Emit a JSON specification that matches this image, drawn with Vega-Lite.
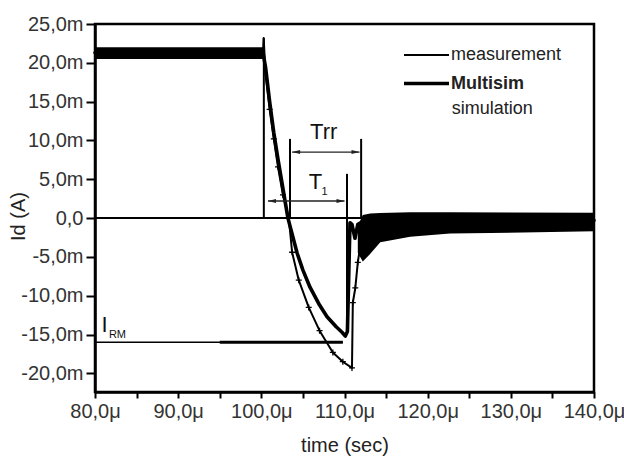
{
  "$schema": "https://vega.github.io/schema/vega-lite/v6.json",
  "width": 499,
  "height": 368,
  "autosize": {"type": "none"},
  "padding": {"left": 95, "top": 24, "right": 30, "bottom": 67},
  "background": "white",
  "config": {"view": {"stroke": "black", "strokeWidth": 2.5}, "font": "Liberation Sans"},
  "datasets": {
    "curves": [
      {"series": "measurement", "t": 80, "I": 21.3},
      {"series": "measurement", "t": 100.2, "I": 21.3},
      {"series": "measurement", "t": 100.28, "I": 23.2},
      {"series": "measurement", "t": 100.5, "I": 18.6},
      {"series": "measurement", "t": 101.0, "I": 14.0},
      {"series": "measurement", "t": 101.5, "I": 10.2},
      {"series": "measurement", "t": 102.0, "I": 6.6},
      {"series": "measurement", "t": 102.6, "I": 3.0},
      {"series": "measurement", "t": 103.3, "I": 0},
      {"series": "measurement", "t": 103.7, "I": -4.4},
      {"series": "measurement", "t": 104.5, "I": -8.0},
      {"series": "measurement", "t": 105.7, "I": -11.5},
      {"series": "measurement", "t": 107.0, "I": -14.5},
      {"series": "measurement", "t": 108.6, "I": -17.3},
      {"series": "measurement", "t": 109.8, "I": -18.5},
      {"series": "measurement", "t": 110.9, "I": -19.3},
      {"series": "measurement", "t": 111.0, "I": -10.9},
      {"series": "measurement", "t": 111.3, "I": -9.0},
      {"series": "measurement", "t": 111.6, "I": -5.7},
      {"series": "measurement", "t": 112.1, "I": -2.2},
      {"series": "measurement", "t": 112.6, "I": -0.9},
      {"series": "measurement", "t": 113.3, "I": -0.4},
      {"series": "measurement", "t": 140, "I": -0.4},
      {"series": "Multisim", "t": 80, "I": 21.3},
      {"series": "Multisim", "t": 100.2, "I": 21.3},
      {"series": "Multisim", "t": 100.5, "I": 19.5},
      {"series": "Multisim", "t": 101.0, "I": 15.0},
      {"series": "Multisim", "t": 101.5, "I": 11.0},
      {"series": "Multisim", "t": 102.0, "I": 7.6},
      {"series": "Multisim", "t": 102.6, "I": 3.8},
      {"series": "Multisim", "t": 103.2, "I": 0},
      {"series": "Multisim", "t": 104.3, "I": -4.5},
      {"series": "Multisim", "t": 105.0, "I": -6.7},
      {"series": "Multisim", "t": 105.85, "I": -8.9},
      {"series": "Multisim", "t": 107.0, "I": -11.2},
      {"series": "Multisim", "t": 107.9, "I": -12.7},
      {"series": "Multisim", "t": 109.0, "I": -14.0},
      {"series": "Multisim", "t": 109.7, "I": -14.7},
      {"series": "Multisim", "t": 110.1, "I": -15.2},
      {"series": "Multisim", "t": 110.35, "I": -14.6},
      {"series": "Multisim", "t": 110.66, "I": -0.6},
      {"series": "Multisim", "t": 110.9, "I": -0.8},
      {"series": "Multisim", "t": 111.26, "I": -2.6},
      {"series": "Multisim", "t": 111.6, "I": -0.8},
      {"series": "Multisim", "t": 112.5, "I": -0.3},
      {"series": "Multisim", "t": 140, "I": -0.3}
    ],
    "band": [
      {"seg": "pre", "t": 80, "hi": 22.0, "lo": 20.5},
      {"seg": "pre", "t": 100.2, "hi": 22.0, "lo": 20.5},
      {"seg": "post", "t": 111.6, "hi": -1.0, "lo": -4.5},
      {"seg": "post", "t": 112.2, "hi": 0.4, "lo": -5.6},
      {"seg": "post", "t": 113.1, "hi": 0.6, "lo": -4.6},
      {"seg": "post", "t": 114.3, "hi": 0.65, "lo": -3.1},
      {"seg": "post", "t": 117.9, "hi": 0.75, "lo": -2.4},
      {"seg": "post", "t": 122.7, "hi": 0.75, "lo": -2.0},
      {"seg": "post", "t": 140, "hi": 0.7, "lo": -1.7}
    ],
    "zero": [{"I": 0}],
    "vlines": [
      {"t": 100.3, "y1": 0, "y2": 23.2},
      {"t": 103.45, "y1": 0, "y2": 10.2},
      {"t": 112.0, "y1": 0, "y2": 10.2},
      {"t": 110.3, "y1": -14.8, "y2": 5.7}
    ],
    "irm": [{"t0": 80, "t1": 95, "t2": 109.8, "I": -16.0}],
    "arrows": [
      {"name": "Trr", "t1": 103.7, "t2": 111.8, "I": 8.5},
      {"name": "T1", "t1": 100.8, "t2": 110.0, "I": 2.2}
    ],
    "labels": [
      {"label": "Trr", "t": 107.5, "I": 11.1},
      {"label": "T", "t": 106.5, "I": 4.7},
      {"label": "I", "t": 81.15, "I": -13.8}
    ],
    "subs": [
      {"label": "1", "t": 107.6, "I": 3.3},
      {"label": "RM", "t": 82.7, "I": -15.1}
    ],
    "legendnote": [{"label": "simulation", "t": 122.9, "I": 14.0}]
  },
  "layer": [
    {
      "data": {"name": "band"},
      "mark": {"type": "area", "color": "black"},
      "encoding": {
        "x": {"field": "t", "type": "quantitative"},
        "y": {"field": "hi", "type": "quantitative"},
        "y2": {"field": "lo"},
        "detail": {"field": "seg"}
      }
    },
    {
      "data": {"name": "zero"},
      "mark": {"type": "rule", "color": "black", "strokeWidth": 2},
      "encoding": {"y": {"field": "I", "type": "quantitative"}}
    },
    {
      "data": {"name": "curves"},
      "mark": {"type": "line", "strokeJoin": "round", "strokeCap": "round"},
      "encoding": {
        "x": {
          "field": "t", "type": "quantitative",
          "scale": {"domain": [80, 140], "nice": false, "zero": false},
          "axis": {
            "title": "time (sec)",
            "values": [80, 85, 90, 95, 100, 105, 110, 115, 120, 125, 130, 135, 140],
            "labelExpr": "datum.value % 10 == 0 ? replace(format(datum.value, '.1f'), '.', ',') + 'μ' : ''",
            "labelFont": "Liberation Sans", "labelFontSize": 20, "labelColor": "#333",
            "labelPadding": 3, "labelFlush": false, "labelOverlap": false,
            "tickSize": 6, "tickColor": "black", "tickWidth": 2,
            "domainColor": "black", "domainWidth": 2.5, "grid": false,
            "titleFont": "Liberation Sans", "titleFontSize": 20, "titleFontWeight": "normal",
            "titleColor": "#222", "titleY": 53, "titleBaseline": "middle"
          }
        },
        "y": {
          "field": "I", "type": "quantitative",
          "scale": {"domain": [-22.4, 25], "nice": false, "zero": false},
          "axis": {
            "title": "Id (A)",
            "values": [-20, -17.5, -15, -12.5, -10, -7.5, -5, -2.5, 0, 2.5, 5, 7.5, 10, 12.5, 15, 17.5, 20, 22.5, 25],
            "labelExpr": "abs(datum.value % 5) > 0.01 ? '' : (datum.value == 0 ? '0,0' : (datum.value < 0 ? '-' : '') + replace(format(abs(datum.value), '.1f'), '.', ',') + 'm')",
            "labelFont": "Liberation Sans", "labelFontSize": 20, "labelColor": "#333",
            "labelPadding": 3, "labelFlush": false, "labelOverlap": false,
            "tickSize": {"condition": {"test": "abs(datum.value % 5) > 0.01", "value": 5}, "value": 9},
            "tickColor": "black", "tickWidth": 2,
            "domainColor": "black", "domainWidth": 2.5, "grid": false,
            "titleFont": "Liberation Sans", "titleFontSize": 20, "titleFontWeight": "normal",
            "titleColor": "#222", "titleX": -77, "titleY": 192, "titleBaseline": "middle"
          }
        },
        "color": {
          "field": "series", "type": "nominal",
          "scale": {"domain": ["measurement", "Multisim"], "range": ["black", "black"]},
          "legend": {
            "orient": "none", "legendX": 322, "legendY": 22, "title": null, "padding": 0,
            "symbolType": "M-3,0H3", "symbolSize": 225, "symbolFillColor": "transparent",
            "labelFont": "Liberation Sans", "labelFontSize": 18, "labelColor": "#222",
            "labelOffset": 15, "rowPadding": 10,
            "encode": {"labels": {"update": {"fontWeight": {"signal": "datum.label == 'Multisim' ? 'bold' : 'normal'"}}}}
          }
        },
        "strokeWidth": {
          "field": "series", "type": "nominal",
          "scale": {"domain": ["measurement", "Multisim"], "range": [2, 3.6]},
          "legend": {
            "orient": "none", "legendX": 322, "legendY": 22, "title": null, "padding": 0,
            "symbolType": "M-3,0H3", "symbolSize": 225, "symbolFillColor": "transparent",
            "labelFont": "Liberation Sans", "labelFontSize": 18, "labelColor": "#222",
            "labelOffset": 15, "rowPadding": 10,
            "encode": {"labels": {"update": {"fontWeight": {"signal": "datum.label == 'Multisim' ? 'bold' : 'normal'"}}}}
          }
        }
      }
    },
    {
      "data": {"name": "curves"},
      "transform": [{"filter": "datum.series == 'measurement' && datum.t > 100.9 && datum.t < 112.3"}],
      "mark": {"type": "point", "shape": "M-1,0H1M0,-1V1", "filled": false, "size": 36, "strokeWidth": 1.3, "color": "black", "opacity": 1},
      "encoding": {
        "x": {"field": "t", "type": "quantitative"},
        "y": {"field": "I", "type": "quantitative"}
      }
    },
    {
      "data": {"name": "vlines"},
      "mark": {"type": "rule", "color": "black", "strokeWidth": 2},
      "encoding": {
        "x": {"field": "t", "type": "quantitative"},
        "y": {"field": "y1", "type": "quantitative"},
        "y2": {"field": "y2"}
      }
    },
    {
      "data": {"name": "irm"},
      "mark": {"type": "rule", "color": "black", "strokeWidth": 1.5},
      "encoding": {
        "x": {"field": "t0", "type": "quantitative"},
        "x2": {"field": "t2"},
        "y": {"field": "I", "type": "quantitative"}
      }
    },
    {
      "data": {"name": "irm"},
      "mark": {"type": "rule", "color": "black", "strokeWidth": 3},
      "encoding": {
        "x": {"field": "t1", "type": "quantitative"},
        "x2": {"field": "t2"},
        "y": {"field": "I", "type": "quantitative"}
      }
    },
    {
      "data": {"name": "arrows"},
      "mark": {"type": "rule", "color": "#222", "strokeWidth": 1.3},
      "encoding": {
        "x": {"field": "t1", "type": "quantitative"},
        "x2": {"field": "t2"},
        "y": {"field": "I", "type": "quantitative"}
      }
    },
    {
      "data": {"name": "arrows"},
      "mark": {"type": "point", "shape": "M0,0L2,-0.5L2,0.5Z", "filled": true, "size": 64, "color": "#222", "opacity": 1},
      "encoding": {
        "x": {"field": "t1", "type": "quantitative"},
        "y": {"field": "I", "type": "quantitative"}
      }
    },
    {
      "data": {"name": "arrows"},
      "mark": {"type": "point", "shape": "M0,0L-2,-0.5L-2,0.5Z", "filled": true, "size": 64, "color": "#222", "opacity": 1},
      "encoding": {
        "x": {"field": "t2", "type": "quantitative"},
        "y": {"field": "I", "type": "quantitative"}
      }
    },
    {
      "data": {"name": "labels"},
      "mark": {"type": "text", "font": "Liberation Sans", "fontSize": 22, "color": "#111", "align": "center", "baseline": "middle"},
      "encoding": {
        "x": {"field": "t", "type": "quantitative"},
        "y": {"field": "I", "type": "quantitative"},
        "text": {"field": "label"}
      }
    },
    {
      "data": {"name": "subs"},
      "mark": {"type": "text", "font": "Liberation Sans", "fontSize": 11, "color": "#111", "align": "center", "baseline": "middle"},
      "encoding": {
        "x": {"field": "t", "type": "quantitative"},
        "y": {"field": "I", "type": "quantitative"},
        "text": {"field": "label"}
      }
    },
    {
      "data": {"name": "legendnote"},
      "mark": {"type": "text", "font": "Liberation Sans", "fontSize": 18, "color": "#222", "align": "left", "baseline": "middle"},
      "encoding": {
        "x": {"field": "t", "type": "quantitative"},
        "y": {"field": "I", "type": "quantitative"},
        "text": {"field": "label"}
      }
    }
  ]
}
